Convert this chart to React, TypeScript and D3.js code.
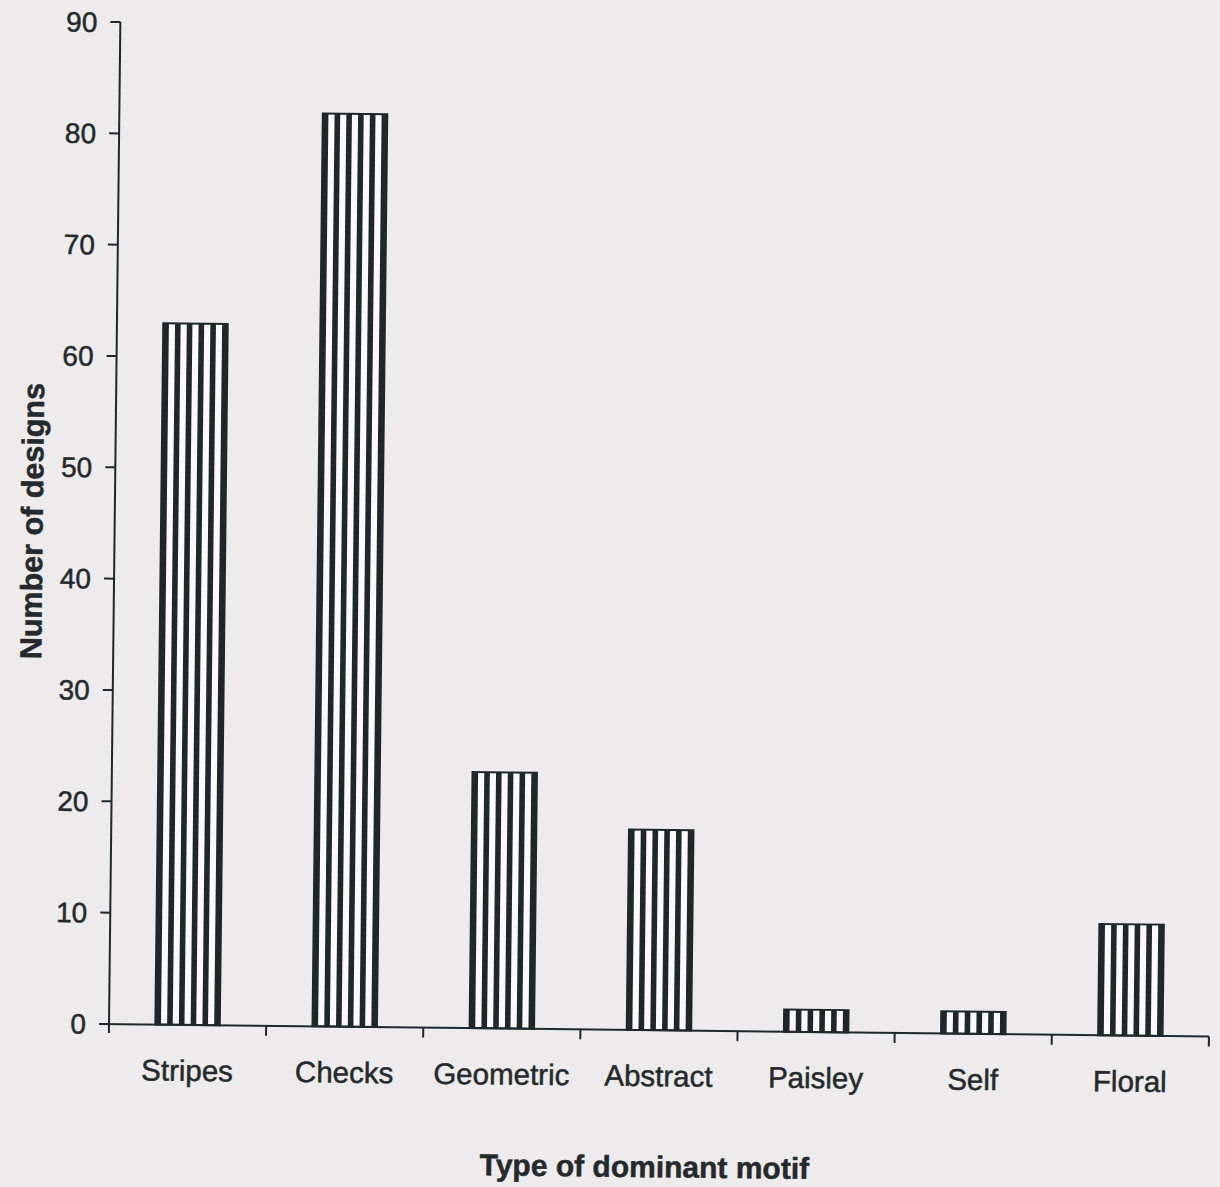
import React from "react";
import * as d3 from "d3";

// Number of designs by type of dominant motif
const categories: string[] = ["Stripes", "Checks", "Geometric", "Abstract", "Paisley", "Self", "Floral"];
const designCounts: number[] = [63, 82, 23, 18, 2, 2, 10];
const yTickValues: number[] = [0, 10, 20, 30, 40, 50, 60, 70, 80, 90];
const yAxisTitle = "Number of designs";
const xAxisTitle = "Type of dominant motif";

const WIDTH = 1220;
const HEIGHT = 1187;
const ORIGIN_X = 109;
const ORIGIN_Y = 1024;
const PLOT_W = 1100;
const PLOT_H = 1002;
const TILT = 0.65; // the printed page sits slightly askew

const INK = "#1e2828";
const TEXT = "#242a2b";
const PAPER = "#edebec";
const FONT = "'Liberation Sans', Arial, Helvetica, sans-serif";

const STRIPES_PER_BAR = 6;
const STRIPE_W = 5.6;

export default function App() {
  const x = d3.scaleBand<string>().domain(categories).range([0, PLOT_W]).paddingInner(0.59).paddingOuter(0.295);
  const y = d3.scaleLinear().domain([0, 90]).range([0, -PLOT_H]);
  const step = x.step();
  const bw = x.bandwidth();
  const boundaries = d3.range(1, categories.length + 1).map((i) => i * step);

  const textProps = { fontFamily: FONT, fill: TEXT, stroke: TEXT, strokeWidth: 0.5 };

  return (
    <svg
      width={WIDTH}
      height={HEIGHT}
      viewBox={`0 0 ${WIDTH} ${HEIGHT}`}
      style={{ position: "absolute", left: 0, top: 0, display: "block", background: PAPER }}
    >
      <rect x={0} y={0} width={WIDTH} height={HEIGHT} fill={PAPER} />
      <g transform={`translate(${ORIGIN_X},${ORIGIN_Y}) rotate(${TILT})`}>
        {/* bars with vertical hatching */}
        {categories.map((c, i) => {
          const v = designCounts[i];
          const x0 = x(c) as number;
          const top = y(v);
          const h = -top;
          const gap = (bw - STRIPE_W) / (STRIPES_PER_BAR - 1);
          return (
            <g key={c}>
              <rect x={x0} y={top} width={bw} height={h} fill="#fbfafa" stroke={INK} strokeWidth={2} />
              {d3.range(STRIPES_PER_BAR).map((k) => (
                <rect key={k} x={x0 + k * gap} y={top} width={STRIPE_W} height={h} fill={INK} />
              ))}
            </g>
          );
        })}

        {/* y axis */}
        <line x1={0} y1={9} x2={0} y2={y(90)} stroke={INK} strokeWidth={2} />
        {yTickValues.map((t) => (
          <g key={t} transform={`translate(0,${y(t)})`}>
            <line x1={-10} x2={0} y1={0} y2={0} stroke={INK} strokeWidth={2} />
            <text x={-23} y={10} textAnchor="end" fontSize={28} {...textProps}>
              {t}
            </text>
          </g>
        ))}

        {/* x axis */}
        <line x1={-10} y1={0} x2={PLOT_W} y2={0} stroke={INK} strokeWidth={2} />
        {boundaries.map((b, i) => (
          <line key={i} x1={b} x2={b} y1={0} y2={10} stroke={INK} strokeWidth={2} />
        ))}
        {categories.map((c) => (
          <text key={c} x={(x(c) as number) + bw / 2} y={56} textAnchor="middle" fontSize={29.5} {...textProps}>
            {c}
          </text>
        ))}

        {/* axis titles */}
        <text x={537} y={147} textAnchor="middle" fontSize={30} fontWeight="bold" {...textProps}>
          {xAxisTitle}
        </text>
        <text
          transform={`translate(-72,${-502}) rotate(-90)`}
          textAnchor="middle"
          fontSize={30.5}
          fontWeight="bold"
          {...textProps}
        >
          {yAxisTitle}
        </text>
      </g>
    </svg>
  );
}
